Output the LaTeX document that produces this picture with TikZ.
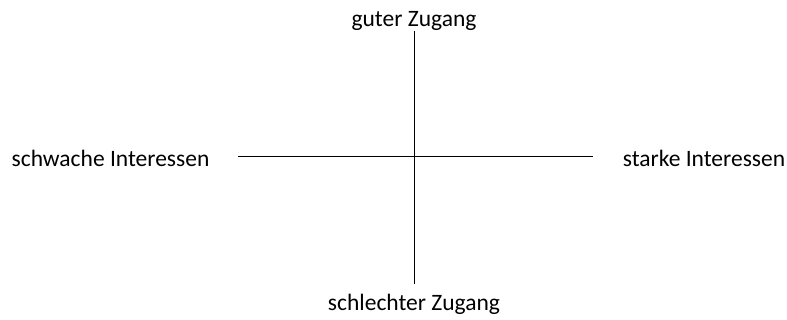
\documentclass[tikz,border=0pt]{standalone}
\usepackage{fontspec}
\setmainfont{Carlito}
\usetikzlibrary{positioning}

\begin{document}
\begin{tikzpicture}[x=1pt, y=-1pt, font=\fontsize{23.5}{28}\selectfont, axislabel/.style={inner sep=0pt, anchor=base}, axis/.style={line width=1pt}]
\useasboundingbox (0,0) rectangle (787,320);
\coordinate (top) at (414,31);
\coordinate (bottom) at (414,284);
\coordinate (left) at (238,157);
\coordinate (right) at (593,157);
\draw[axis] (top) -- (bottom);
\draw[axis] (left) -- (right);
\node[axislabel] (good) at (414,27) {guter Zugang};
\node[axislabel] (bad) at (414,311) {schlechter Zugang};
\node[axislabel] (weak) at (110.5,167) {schwache Interessen};
\node[axislabel] (strong) at (704,167) {starke Interessen};
\end{tikzpicture}
\end{document}
